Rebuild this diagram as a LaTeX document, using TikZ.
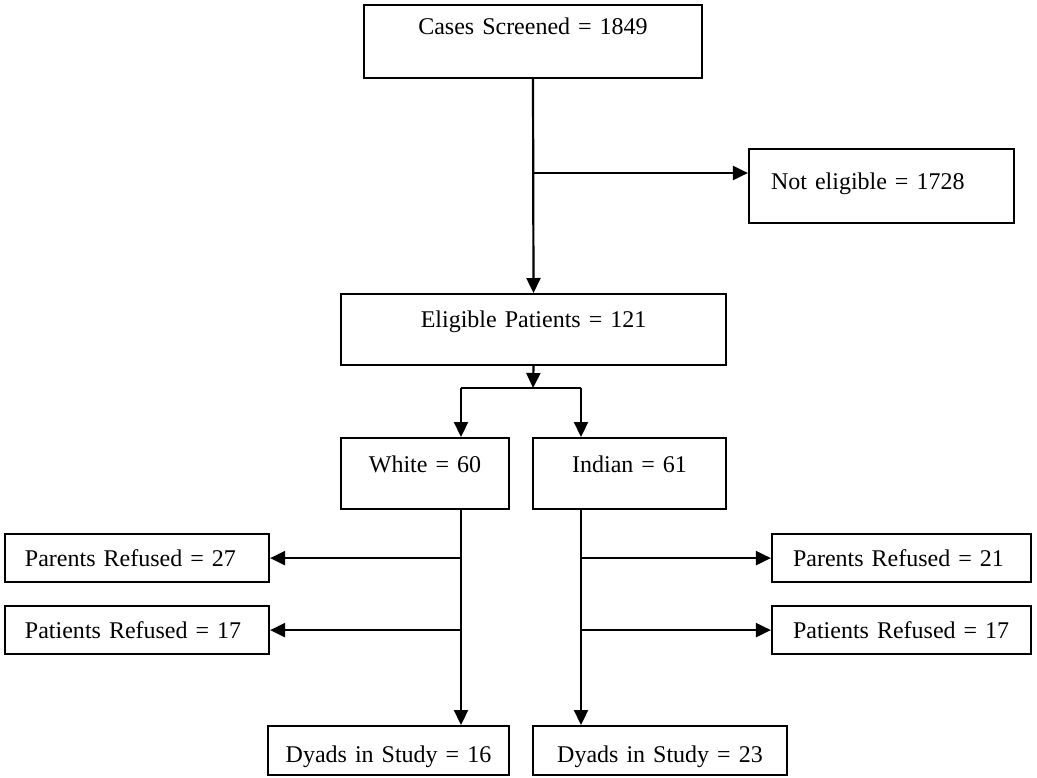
\documentclass[tikz,border=0pt]{standalone}
\usepackage{fontspec}
\setmainfont{Liberation Serif}
\usetikzlibrary{arrows.meta}
\tikzset{
  box/.style={draw, line width=1.1pt, inner sep=0pt, anchor=north, align=center,
    font=\fontsize{12pt}{14pt}\selectfont},
  sidebox/.style={box, inner xsep=10pt, align=left, text height=16pt, text depth=8pt},
  flow/.style={line width=1.1pt, -{Triangle[length=7.5pt,width=7pt]}},
  link/.style={line width=1.1pt}
}
\begin{document}
\begin{tikzpicture}[x=0.5pt,y=-0.5pt]
    \useasboundingbox (0,0) rectangle (1037,777);
    % boxes
    \node[box, text width=169pt, text height=14.5pt, text depth=22pt] (cases) at (533,4) {Cases Screened = 1849};
    \node[box, inner xsep=11pt, text width=110.5pt, align=left, text height=20pt, text depth=17pt] (noteligible) at (881.5,148) {Not eligible = 1728};
    \node[box, text width=192.5pt, text height=16.5pt, text depth=19pt] (eligible) at (533.5,293) {Eligible Patients = 121};
    \node[box, text width=84pt, text height=17pt, text depth=18.5pt] (white) at (425,437) {White = 60};
    \node[box, text width=96.5pt, text height=17pt, text depth=18.5pt] (indian) at (629.5,437) {Indian = 61};
    \node[sidebox, text width=112pt] (parentsW) at (137,533) {Parents Refused = 27};
    \node[sidebox, text width=112pt] (patientsW) at (137,605) {Patients Refused = 17};
    \node[sidebox, text width=108.5pt, inner xsep=10.5pt] (parentsI) at (901.5,533) {Parents Refused = 21};
    \node[sidebox, text width=108.5pt, inner xsep=10.5pt] (patientsI) at (901.5,605) {Patients Refused = 17};
    \node[box, text width=120.5pt, text height=18pt, text depth=6.5pt] (dyadsW) at (388.5,725) {Dyads in Study = 16};
    \node[box, text width=127pt, text height=18pt, text depth=6.5pt] (dyadsI) at (660,725) {Dyads in Study = 23};
    % connectors
    \coordinate (branch) at (533,173);
    \coordinate (split) at (533,388);
    \coordinate (splitW) at (461,388);
    \coordinate (splitI) at (581,388);
    \draw[flow] (cases.south) -- (eligible.north);
    \draw[flow] (branch) -- (branch -| noteligible.west);
    \draw[flow] (eligible.south) -- (split);
    \draw[link] (splitW) -- (splitI);
    \draw[flow] (splitW) -- (splitW |- white.north);
    \draw[flow] (splitI) -- (splitI |- indian.north);
    \draw[flow] (splitW |- white.south) -- (splitW |- dyadsW.north);
    \draw[flow] (splitI |- indian.south) -- (splitI |- dyadsI.north);
    \draw[flow] (splitW |- parentsW.east) -- (parentsW.east);
    \draw[flow] (splitW |- patientsW.east) -- (patientsW.east);
    \draw[flow] (splitI |- parentsI.west) -- (parentsI.west);
    \draw[flow] (splitI |- patientsI.west) -- (patientsI.west);
\end{tikzpicture}
\end{document}
